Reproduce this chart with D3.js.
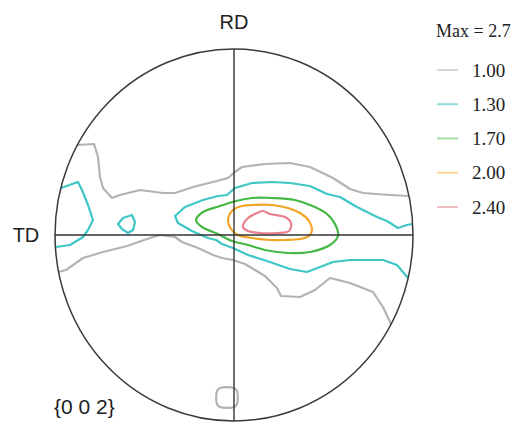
<!DOCTYPE html>
<html><head><meta charset="utf-8">
<script src="https://cdn.jsdelivr.net/npm/d3@7"></script>
<style>html,body{margin:0;padding:0;background:#fff;}</style>
</head><body>
<svg id="chart" width="517" height="422"></svg>
<script>
// Contour levels (legend)
const levels = ["1.00", "1.30", "1.70", "2.00", "2.40"];
const levelColors = ["#b3b3b3", "#3fc6c6", "#45b845", "#f2a424", "#e8808e"];
const legendColors = ["#d6d6d6", "#8ed9d9", "#a6dca6", "#f8d594", "#eec0c5"];
const maxLabel = "Max = 2.7";
const poleLabel = "{0 0 2}";

// Contour polylines in pole-figure projection units (TD horizontal, RD vertical)
const gray1Upper = [[-157,90],[-140,91],[-136,78],[-134,58],[-131,47],[-122,37],[-114,40],[-94,45],[-71,42],[-59,42],[-41,48],[-21,53],[-6,57],[1,63],[8,68],[31,71],[56,72],[76,68],[99,57],[116,46],[129,42],[156,40],[175,39]];
const gray1Lower = [[-176,-37],[-168,-35],[-151,-23],[-131,-17],[-107,-11],[-84,-3],[-74,0],[-59,-2],[-52,-7],[-36,-13],[-21,-20],[-12,-23],[-1,-25],[11,-29],[31,-41],[43,-53],[47,-61],[66,-62],[81,-55],[96,-43],[116,-48],[139,-57],[149,-72],[156,-87],[157,-90]];
const gray1Box = [[-17,-156],[-14,-153],[0,-153],[3,-156],[3,-169],[0,-172],[-14,-172],[-17,-169]];
const teal13Left = [[-173,47],[-156,53],[-152,45],[-146,30],[-141,15],[-146,5],[-151,-2],[-164,-10],[-178,-12]];
const teal13Small = [[-116,11],[-111,17],[-102,20],[-99,13],[-101,5],[-106,2],[-112,6]];
const teal13Main = [[178,11],[173,10],[164,7],[153,14],[143,18],[123,28],[106,38],[93,41],[76,49],[56,52],[38,53],[18,52],[1,47],[-7,40],[-16,39],[-31,35],[-49,28],[-59,19],[-56,12],[-42,4],[-33,0],[-26,-3],[-18,-5],[-12,-9],[-1,-13],[14,-20],[33,-26],[56,-34],[73,-37],[86,-32],[99,-27],[116,-25],[149,-25],[163,-30],[174,-43]];
const green17 = [[-38,15],[-31,23],[-14,29],[2,34],[18,37],[38,37],[61,35],[76,30],[93,21],[102,9],[104,-1],[96,-10],[76,-17],[54,-18],[31,-15],[14,-10],[-2,-6],[-16,1],[-32,8]];
const orange20 = [[-6,15],[-1,25],[8,29],[19,30],[38,30],[54,27],[66,22],[75,14],[78,5],[75,-1],[66,-4],[51,-5],[36,-5],[18,-3],[4,0],[-3,6]];
const pink24 = [[9,8],[14,17],[23,22],[29,24],[36,21],[51,18],[57,12],[55,4],[43,2],[26,2],[14,4]];

const contours = [
  {pts: gray1Upper, lvl: 0, closed: false},
  {pts: gray1Lower, lvl: 0, closed: false},
  {pts: gray1Box, lvl: 0, closed: true, smooth: true},
  {pts: teal13Left, lvl: 1, closed: false},
  {pts: teal13Small, lvl: 1, closed: true},
  {pts: teal13Main, lvl: 1, closed: false},
  {pts: green17, lvl: 2, closed: true, smooth: true},
  {pts: orange20, lvl: 3, closed: true, smooth: true},
  {pts: pink24, lvl: 4, closed: true, smooth: true}
];

const svg = d3.select("#chart");
const cx = 234, cy = 235, rx = 179, ry = 186;
const x = d3.scaleLinear().domain([-179, 179]).range([cx - rx, cx + rx]);
const y = d3.scaleLinear().domain([-186, 186]).range([cy + ry, cy - ry]);

svg.append("defs").append("clipPath").attr("id", "pf")
  .append("ellipse").attr("cx", x(0)).attr("cy", y(0)).attr("rx", rx + 1).attr("ry", ry + 1);

const g = svg.append("g").attr("clip-path", "url(#pf)");
contours.forEach(c => {
  const line = d3.line().x(d => x(d[0])).y(d => y(d[1]))
    .curve(c.closed ? (c.smooth ? d3.curveCatmullRomClosed.alpha(0.5) : d3.curveLinearClosed) : d3.curveLinear);
  g.append("path").attr("d", line(c.pts))
    .attr("fill", "none")
    .attr("stroke", levelColors[c.lvl])
    .attr("stroke-width", 2.2)
    .attr("stroke-linejoin", "round");
});

// frame circle and axes
svg.append("ellipse").attr("cx", x(0)).attr("cy", y(0)).attr("rx", rx).attr("ry", ry)
  .attr("fill", "none").attr("stroke", "#3a3a3a").attr("stroke-width", 1.5);
svg.append("line").attr("x1", x(-179)).attr("x2", x(179)).attr("y1", y(0)).attr("y2", y(0))
  .attr("stroke", "#333").attr("stroke-width", 1.6);
svg.append("line").attr("x1", x(0)).attr("x2", x(0)).attr("y1", y(186)).attr("y2", y(-186))
  .attr("stroke", "#333").attr("stroke-width", 1.4);

// labels
const sans = "Liberation Sans, Arial, sans-serif";
svg.append("text").attr("x", x(0)).attr("y", 29).attr("text-anchor", "middle")
  .attr("font-family", sans).attr("font-size", 20).attr("fill", "#222").text("RD");
svg.append("text").attr("x", 26).attr("y", 242).attr("text-anchor", "middle")
  .attr("font-family", sans).attr("font-size", 20).attr("fill", "#222").text("TD");
svg.append("text").attr("x", 54).attr("y", 414)
  .attr("font-family", sans).attr("font-size", 21).attr("fill", "#222").text(poleLabel);

// legend
const serif = "Liberation Serif, Times New Roman, serif";
svg.append("text").attr("x", 436).attr("y", 37)
  .attr("font-family", serif).attr("font-size", 18).attr("fill", "#222").text(maxLabel);
const ly = d3.scalePoint().domain(levels).range([70, 207]);
const lg = svg.append("g");
levels.forEach((l, i) => {
  lg.append("line").attr("x1", 437).attr("x2", 458).attr("y1", ly(l)).attr("y2", ly(l))
    .attr("stroke", legendColors[i]).attr("stroke-width", 2);
  lg.append("text").attr("x", 472).attr("y", ly(l)).attr("dy", "0.35em")
    .attr("font-family", serif).attr("font-size", 19).attr("fill", "#222").text(l);
});
</script>
</body></html>
